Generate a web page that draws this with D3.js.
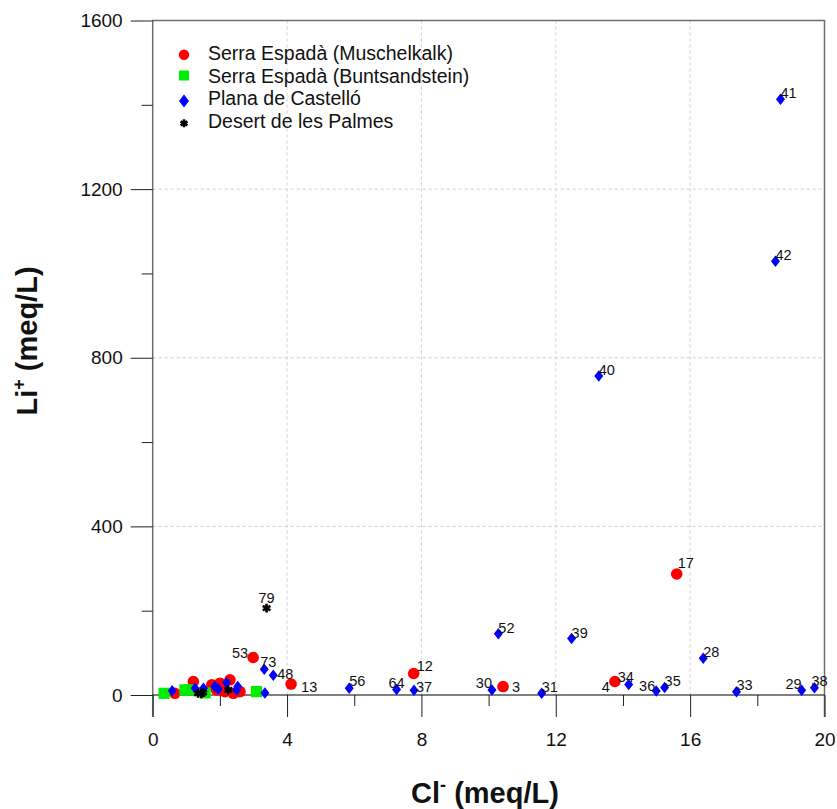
<!DOCTYPE html>
<html>
<head>
<meta charset="utf-8">
<script src="https://cdn.jsdelivr.net/npm/d3@7"></script>
<style>
  body { margin: 0; background: #fff; }
  svg { display: block; font-family: "Liberation Sans", Arial, Helvetica, sans-serif; }
</style>
</head>
<body>
<svg id="chart" width="837" height="809"></svg>
<script>
// ---------------- DATA ----------------
const seriesNames = ["Serra Espadà (Muschelkalk)", "Serra Espadà (Buntsandstein)", "Plana de Castelló", "Desert de les Palmes"];

// [Cl- (meq/L), Li+ (meq/L), label]
const muschelkalk = [
  [0.66, 4, ""], [1.21, 32, ""], [1.11, 12, ""], [1.76, 24, ""], [2.0, 28, ""],
  [2.3, 36, ""], [2.15, 8, ""], [2.6, 8, ""], [1.9, 12, ""], [2.4, 4, ""],
  [2.99, 89, "53"], [4.12, 26, "13"], [7.77, 51, "12"], [10.43, 20, "3"],
  [13.76, 32, "4"], [15.6, 287, "17"]
];
const buntsandstein = [
  [0.34, 4, ""], [0.96, 12, ""], [1.1, 12, ""], [1.56, 5, ""], [3.09, 8, ""]
];
const planaCastello = [
  [0.58, 10, ""], [3.34, 5, ""], [1.26, 16, ""], [1.51, 16, ""], [1.85, 20, ""],
  [1.95, 14, ""], [2.2, 29, ""], [2.53, 20, ""], [2.5, 12, ""],
  [3.32, 61, "73"], [3.59, 47, "48"], [5.85, 16, "56"], [7.26, 13, "64"],
  [7.78, 11, "37"], [10.10, 12, "30"], [10.29, 145, "52"], [11.58, 4, "31"],
  [12.47, 134, "39"], [13.28, 757, "40"], [14.17, 25, "34"], [14.99, 9.5, "36"],
  [15.24, 18, "35"], [16.39, 87, "28"], [17.38, 8, "33"], [18.54, 1029, "42"],
  [18.69, 1413, "41"], [19.32, 11, "29"], [19.70, 17, "38"]
];
const desertPalmes = [
  [1.35, 4, ""], [1.45, 3, ""], [1.5, 6, ""], [2.25, 12, ""], [3.39, 206, "79"]
];

const xMajorTicks = [0, 4, 8, 12, 16, 20];
const xMinorTicks = [2, 6, 10, 14, 18];
const yMajorTicks = [0, 400, 800, 1200, 1600];
const yMinorTicks = [200, 600, 1000, 1400];
const xGrid = [4, 8, 12, 16];
const yGrid = [400, 800, 1200];

// label placement: [anchor, dx, dy]  (styling only)
const labelPlace = {
  "41": ["start", 0, -1], "42": ["start", 0, -1], "40": ["start", 0, -1],
  "52": ["start", 0, -1], "39": ["start", 0, -1], "28": ["start", 0, -1],
  "73": ["start", -4, -2], "48": ["start", 4, 4], "13": ["start", 10, 8],
  "53": ["end", -5, 1], "12": ["start", 3, -3], "3": ["start", 9, 5],
  "56": ["start", 0, -2], "64": ["end", 8, -2], "37": ["start", 2, 2],
  "30": ["end", 0, -2], "31": ["start", 0, -1], "4": ["end", -5, 10],
  "34": ["start", -11, -2], "36": ["end", -1, 0], "35": ["start", 0, -1],
  "33": ["start", 0, -2], "29": ["end", 0, -1], "38": ["start", -3, -2],
  "17": ["start", 1, -6], "79": ["middle", 0, -5]
};

// ---------------- CHART ----------------
const svg = d3.select("#chart");
const x = d3.scaleLinear().domain([0, 20]).range([152.7, 824.5]);
const y = d3.scaleLinear().domain([0, 1600]).range([695, 20.5]);
const yBottomExt = 717;

// gridlines
const grid = svg.append("g").attr("stroke", "#cfcfcf").attr("stroke-width", 1).attr("stroke-dasharray", "3,3");
grid.selectAll("line.vx").data(xGrid).join("line")
  .attr("x1", d => x(d)).attr("x2", d => x(d)).attr("y1", y(1600)).attr("y2", y(0));
grid.selectAll("line.hy").data(yGrid).join("line")
  .attr("x1", x(0)).attr("x2", x(20)).attr("y1", d => y(d)).attr("y2", d => y(d));

// frame
const frame = svg.append("g").attr("stroke", "#6e6e6e").attr("stroke-width", 1.5).attr("fill", "none");
frame.append("path").attr("d", `M${x(0)},${yBottomExt}V${y(1600)}H${x(20)}V${yBottomExt}`);

// x axis
const fs = 19;
const xAxisG = svg.append("g").attr("transform", `translate(0,${y(0)})`)
  .call(d3.axisBottom(x).tickValues(xMajorTicks).tickSize(22).tickPadding(16).tickFormat(d3.format("d")));
xAxisG.select(".domain").remove();
xAxisG.selectAll("text").attr("font-size", fs).attr("font-family", null).attr("fill", "#111");
xAxisG.selectAll("line").attr("stroke", "#222");
const xMinorG = svg.append("g").attr("transform", `translate(0,${y(0)})`)
  .call(d3.axisBottom(x).tickValues(xMinorTicks).tickSize(11).tickFormat(""));
xMinorG.select(".domain").remove();
xMinorG.selectAll("line").attr("stroke", "#222");

// y axis
const yAxisG = svg.append("g").attr("transform", `translate(${x(0)},0)`)
  .call(d3.axisLeft(y).tickValues(yMajorTicks).tickSize(22).tickPadding(8).tickFormat(d3.format("d")));
yAxisG.select(".domain").remove();
yAxisG.selectAll("text").attr("font-size", fs).attr("font-family", null).attr("fill", "#111");
yAxisG.selectAll("line").attr("stroke", "#222");
const yMinorG = svg.append("g").attr("transform", `translate(${x(0)},0)`)
  .call(d3.axisLeft(y).tickValues(yMinorTicks).tickSize(11).tickFormat(""));
yMinorG.select(".domain").remove();
yMinorG.selectAll("line").attr("stroke", "#222");

// x zero line
svg.append("line").attr("x1", x(0)).attr("x2", x(20)).attr("y1", y(0)).attr("y2", y(0))
  .attr("stroke", "#000").attr("stroke-width", 1.2);

// symbols
const diamondPath = (w, h) => `M0,${-h/2}L${w/2},0L0,${h/2}L${-w/2},0Z`;
const starPath = d3.symbol().type(d3.symbolAsterisk).size(55)();

const series = [
  { data: muschelkalk, draw: g => g.append("circle").attr("r", 5.8).attr("fill", "#ff0000") },
  { data: buntsandstein, draw: g => g.append("rect").attr("x", -5.6).attr("y", -5.6).attr("width", 11.2).attr("height", 11.2).attr("fill", "#00ee00") },
  { data: planaCastello, draw: g => g.append("path").attr("d", diamondPath(9, 11.5)).attr("fill", "#0000ff") },
  { data: desertPalmes, draw: g => g.append("path").attr("d", starPath).attr("stroke", "#000").attr("stroke-width", 2.6).attr("fill", "none") }
];

const marks = svg.append("g");
series.forEach(s => {
  s.data.forEach(d => {
    const g = marks.append("g").attr("transform", `translate(${x(d[0])},${y(d[1])})`);
    s.draw(g);
  });
});

// point labels
const labels = svg.append("g").attr("font-size", 14.5).attr("fill", "#111");
series.forEach(s => {
  s.data.filter(d => d[2] !== "").forEach(d => {
    const p = labelPlace[d[2]] || ["start", 1, -1];
    labels.append("text")
      .attr("x", x(d[0]) + p[1]).attr("y", y(d[1]) + p[2])
      .attr("text-anchor", p[0]).text(d[2]);
  });
});

// legend
const legendMarkY = [54.7, 75.5, 101, 123.3];
const legendTextY = [60, 82.5, 105, 127.5];
const lg = svg.append("g");
series.forEach((s, i) => {
  const g = lg.append("g").attr("transform", `translate(184,${legendMarkY[i]})`);
  if (i === 2) g.append("path").attr("d", diamondPath(10, 13)).attr("fill", "#0000ff");
  else if (i === 3) g.append("path").attr("d", d3.symbol().type(d3.symbolAsterisk).size(45)()).attr("stroke", "#000").attr("stroke-width", 2.6);
  else if (i === 0) g.append("circle").attr("r", 5.2).attr("fill", "#ff0000");
  else g.append("rect").attr("x", -5).attr("y", -5).attr("width", 10).attr("height", 10).attr("fill", "#00ee00");
  lg.append("text").attr("x", 208).attr("y", legendTextY[i]).attr("font-size", 19.5).attr("fill", "#111").text(seriesNames[i]);
});

// axis titles
const xt = svg.append("text").attr("x", 485).attr("y", 803).attr("text-anchor", "middle")
  .attr("font-size", 29).attr("font-weight", "bold").attr("fill", "#111");
xt.append("tspan").text("Cl");
xt.append("tspan").attr("font-size", 18).attr("dy", -12).text("-");
xt.append("tspan").attr("dy", 12).text(" (meq/L)");

const yt = svg.append("text").attr("transform", `translate(37,341) rotate(-90)`).attr("text-anchor", "middle")
  .attr("font-size", 29).attr("font-weight", "bold").attr("fill", "#111");
yt.append("tspan").text("Li");
yt.append("tspan").attr("font-size", 18).attr("dy", -12).text("+");
yt.append("tspan").attr("dy", 12).text(" (meq/L)");
</script>
</body>
</html>
